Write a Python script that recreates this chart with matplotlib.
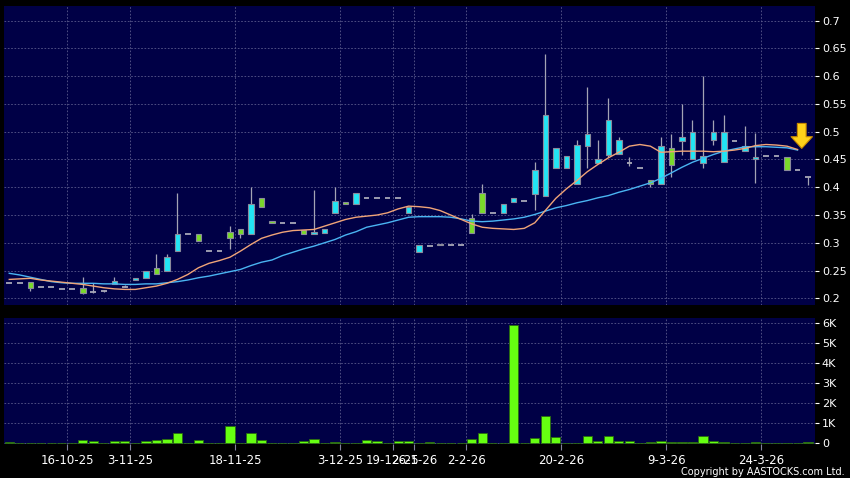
import matplotlib
matplotlib.use('Agg')
import matplotlib.pyplot as plt
import numpy as np

# daily candles, one slot per traded day (77 slots)
opens = [0.228,0.228,0.229,0.220,0.220,0.217,0.217,0.218,0.211,0.213,
         0.2255,0.220,0.2325,0.236,0.254,0.249,0.285,0.316,0.315,0.285,
         0.285,0.319,0.324,0.315,0.380,0.340,0.335,0.335,0.323,0.315,
         0.318,0.354,0.374,0.369,0.380,0.380,0.380,0.380,0.354,0.284,
         0.295,0.298,0.2955,0.2955,0.344,0.389,0.354,0.354,0.374,0.375,
         0.388,0.385,0.434,0.434,0.405,0.475,0.444,0.458,0.459,0.444,
         0.434,0.413,0.405,0.470,0.484,0.450,0.444,0.485,0.445,0.484,
         0.465,0.450,0.456,0.456,0.455,0.431,0.419]
highs = [0.228,0.228,0.229,0.220,0.220,0.217,0.217,0.238,0.228,0.2145,
         0.238,0.224,0.236,0.249,0.280,0.280,0.390,0.316,0.315,0.285,
         0.285,0.330,0.324,0.400,0.380,0.340,0.335,0.335,0.323,0.395,
         0.324,0.400,0.374,0.390,0.380,0.380,0.380,0.380,0.364,0.2955,
         0.295,0.298,0.2955,0.2955,0.351,0.406,0.354,0.370,0.380,0.375,
         0.446,0.640,0.470,0.456,0.485,0.580,0.485,0.560,0.491,0.455,
         0.434,0.413,0.491,0.496,0.550,0.521,0.600,0.521,0.530,0.484,
         0.510,0.497,0.456,0.456,0.455,0.431,0.419]
lows = [0.228,0.228,0.214,0.220,0.220,0.217,0.217,0.207,0.209,0.2115,
        0.2255,0.220,0.2325,0.236,0.243,0.249,0.285,0.316,0.304,0.285,
        0.285,0.289,0.309,0.315,0.364,0.335,0.335,0.335,0.315,0.315,
        0.318,0.354,0.369,0.369,0.380,0.380,0.380,0.380,0.354,0.284,
        0.295,0.296,0.2955,0.2955,0.318,0.354,0.354,0.354,0.374,0.375,
        0.359,0.385,0.434,0.434,0.405,0.434,0.444,0.455,0.459,0.439,
        0.434,0.401,0.405,0.419,0.458,0.450,0.434,0.476,0.445,0.484,
        0.465,0.407,0.456,0.456,0.431,0.431,0.404]
closes = [0.228,0.228,0.218,0.220,0.220,0.217,0.217,0.209,0.211,0.213,
          0.231,0.220,0.236,0.249,0.243,0.274,0.316,0.316,0.304,0.285,
          0.285,0.309,0.315,0.370,0.364,0.335,0.335,0.335,0.315,0.319,
          0.324,0.375,0.369,0.390,0.380,0.380,0.380,0.380,0.364,0.2955,
          0.295,0.296,0.2955,0.2955,0.318,0.354,0.354,0.370,0.380,0.375,
          0.431,0.530,0.470,0.456,0.476,0.496,0.450,0.521,0.485,0.444,
          0.434,0.405,0.475,0.440,0.490,0.500,0.456,0.500,0.500,0.484,
          0.475,0.455,0.456,0.456,0.431,0.431,0.419]
volumes = [65,10,10,10,30,30,0,160,120,0,
           120,140,20,120,180,230,530,0,150,0,
           0,870,30,530,150,40,0,0,100,230,
           0,70,0,0,150,120,0,100,120,30,
           50,10,10,10,230,530,30,30,5910,0,
           270,1370,300,20,40,370,100,380,100,120,
           40,50,100,70,80,50,370,130,80,0,
           30,80,10,10,20,0,50]

# moving averages
maShort = [0.234,0.235,0.236,0.233,0.231,0.229,0.227,0.225,0.222,0.219,
           0.217,0.216,0.216,0.219,0.222,0.227,0.234,0.243,0.255,0.263,
           0.268,0.274,0.285,0.297,0.308,0.314,0.319,0.322,0.323,0.324,
           0.330,0.336,0.342,0.346,0.348,0.350,0.354,0.361,0.366,0.365,
           0.363,0.358,0.350,0.342,0.334,0.328,0.326,0.325,0.324,0.326,
           0.336,0.358,0.380,0.397,0.412,0.428,0.441,0.453,0.463,0.474,
           0.477,0.474,0.463,0.464,0.465,0.465,0.465,0.464,0.465,0.467,
           0.470,0.475,0.477,0.476,0.474,0.468]
maLong = [0.245,0.242,0.238,0.234,0.230,0.228,0.227,0.227,0.227,0.226,
          0.226,0.225,0.225,0.226,0.226,0.228,0.230,0.233,0.237,0.240,
          0.244,0.248,0.252,0.259,0.265,0.269,0.277,0.283,0.289,0.294,
          0.300,0.306,0.314,0.320,0.328,0.332,0.336,0.341,0.346,0.347,
          0.347,0.347,0.346,0.343,0.339,0.338,0.339,0.341,0.343,0.346,
          0.351,0.357,0.363,0.367,0.372,0.376,0.381,0.385,0.391,0.396,
          0.402,0.408,0.416,0.426,0.436,0.445,0.452,0.459,0.465,0.469,
          0.473,0.473,0.473,0.472,0.471,0.467]

dateLabels = ['16-10-25','3-11-25','18-11-25','3-12-25','19-12-25','26-1-26',
              '2-2-26','20-2-26','9-3-26','24-3-26']
dateSlots = [6,12,22,32,37,39,44,53,63,72]
priceTicks = [0.2,0.25,0.3,0.35,0.4,0.45,0.5,0.55,0.6,0.65,0.7]
volTicks = [0,1000,2000,3000,4000,5000,6000]

bg = '#000046'
gridc = '#5a5a8c'
upc = '#22e4f4'
downc = '#7ada2a'
wickc = '#a4a4b4'

fig = plt.figure(figsize=(8.5,4.78), dpi=100, facecolor='black')
axP = fig.add_axes([0.0047,0.362,0.9541,0.6255], facecolor=bg)
axV = fig.add_axes([0.0047,0.0711,0.9541,0.2636], facecolor=bg)

x = np.arange(len(opens))
o = np.array(opens); c = np.array(closes)
h = np.array(highs); l = np.array(lows)

# wicks
axP.vlines(x, l, h, color=wickc, lw=0.9, zorder=2)
# bodies
up = c > o
down = c < o
flat = c == o
axP.bar(x[up], (c-o)[up], bottom=o[up], width=0.52, color=upc,
        edgecolor='#8a8a9c', lw=0.8, zorder=3)
axP.bar(x[down], (o-c)[down], bottom=c[down], width=0.52, color=downc,
        edgecolor='#8a8a9c', lw=0.8, zorder=3)
axP.hlines(c[flat], x[flat]-0.27, x[flat]+0.27, color='#a8a8b8', lw=1.3, zorder=3)

# moving averages
axP.plot(np.arange(len(maLong)), maLong, color='#4ab4f2', lw=1.0, zorder=4)
axP.plot(np.arange(len(maShort)), maShort, color='#f0a478', lw=1.0, zorder=4)

# yellow arrow at the last day
axP.annotate('', xy=(75.4,0.470), xytext=(75.4,0.515),
             arrowprops=dict(arrowstyle='simple,head_length=0.6,head_width=1.1,tail_width=0.45',
                             mutation_scale=14, fc='#ffd21a', ec='#c88a00', lw=0.8,
                             shrinkA=0, shrinkB=0), zorder=6)

# volume
axV.bar(x, volumes, width=0.88, color='#66ff11', edgecolor='#2a6a10', lw=0.6, zorder=3)

gridPos = [s-0.5 for s in dateSlots]
for ax in (axP, axV):
    ax.set_xlim(-0.5, 76.66)
    for sp in ax.spines.values():
        sp.set_visible(False)
    ax.yaxis.tick_right()
    ax.tick_params(axis='y', colors='white', labelsize=8, length=3, width=0.8, pad=2)
    ax.set_xticks(gridPos)
    for gx in gridPos:
        ax.axvline(gx, color=gridc, lw=0.6, ls=(0,(2,2)), zorder=1)

axP.set_ylim(0.188, 0.7265)
axP.set_yticks(priceTicks)
axP.set_yticklabels(['%g' % t for t in priceTicks])
for t in priceTicks:
    axP.axhline(t, color=gridc, lw=0.6, ls=(0,(2,2)), zorder=1)
axP.tick_params(axis='x', length=0, labelbottom=False)

axV.set_ylim(-35, 6250)
axV.set_yticks(volTicks)
axV.set_yticklabels(['0' if v == 0 else '%dK' % (v//1000) for v in volTicks])
for t in volTicks:
    axV.axhline(t, color=gridc, lw=0.6, ls=(0,(2,2)), zorder=1)
axV.set_xticklabels(dateLabels)
axV.tick_params(axis='x', colors='white', labelsize=8.5, length=4, width=0.8,
                color='#8080a0', pad=3)

fig.text(0.994, 0.013, 'Copyright by AASTOCKS.com Ltd.', color='white',
         fontsize=7, ha='right', va='center')

fig.savefig('out.png', dpi=100, facecolor='black')
